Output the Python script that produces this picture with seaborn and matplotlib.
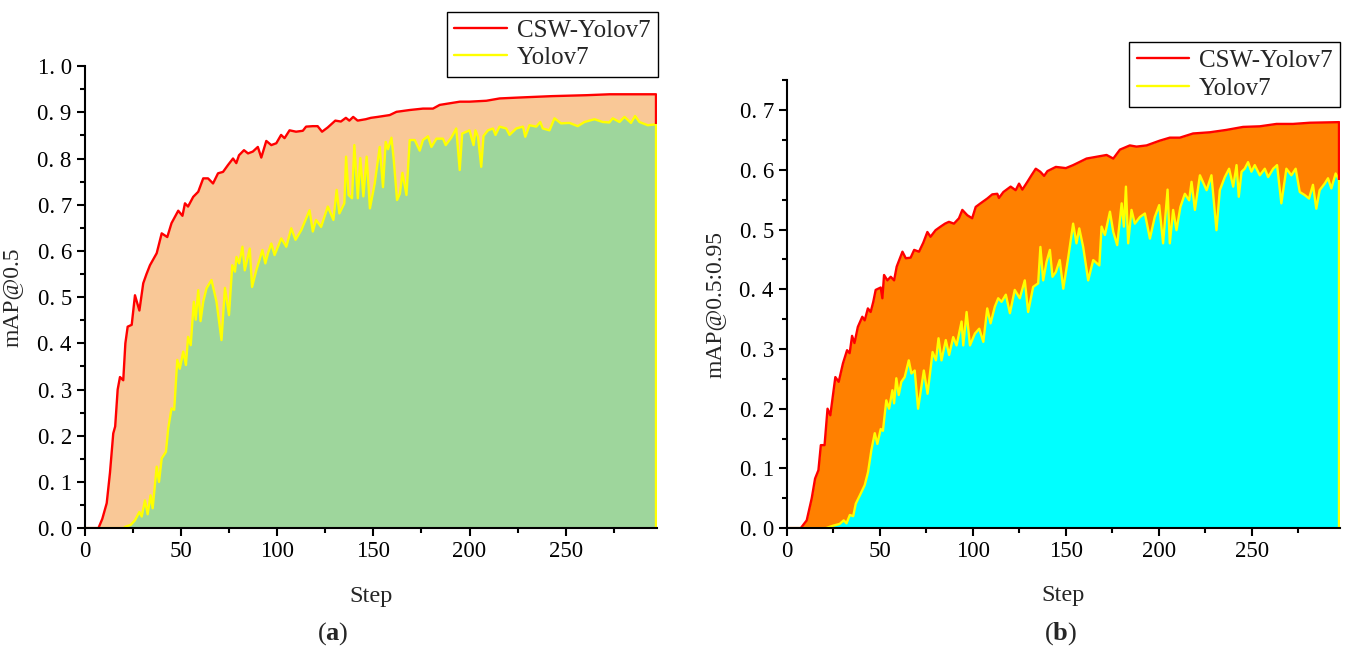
import numpy as np
import matplotlib
matplotlib.use("Agg")
import matplotlib.pyplot as plt
from matplotlib.ticker import MultipleLocator, FuncFormatter
import seaborn as sns

# panel (a): mAP@0.5
a_csw_step = [0, 7, 9, 11.3, 13, 14.7, 15.7, 17, 18.2, 19.9,
              21, 22.2, 24.3, 26, 28.3, 30.3, 32, 33.8, 37.3, 39.9,
              42.8, 45, 48.5, 50.7, 52, 53.6, 56.3, 58.9, 61.5, 64,
              66.6, 69.2, 71.8, 74.4, 77, 78.7, 80.1, 82.7, 84.8, 87.3,
              89.9, 91.7, 94.3, 96.9, 99.5, 102, 103.8, 106.4, 109.8, 113.3,
              115, 118.5, 121, 123.3, 126.2, 130.2, 133.1, 135.7, 137.5, 139.5,
              141.8, 146, 148.7, 152.2, 158.5, 162, 169, 175.8, 181, 184.5,
              195, 200, 208.8, 215.7, 226, 243, 260.8, 272.9, 297]
a_csw_map = [0, 0, 0.02, 0.054, 0.12, 0.205, 0.22, 0.3, 0.327, 0.32,
             0.4, 0.436, 0.44, 0.504, 0.471, 0.53, 0.55, 0.569, 0.595, 0.638,
             0.63, 0.66, 0.687, 0.676, 0.703, 0.696, 0.717, 0.728, 0.757, 0.757,
             0.746, 0.768, 0.771, 0.786, 0.80, 0.79, 0.807, 0.818, 0.811, 0.815,
             0.825, 0.802, 0.838, 0.829, 0.833, 0.851, 0.844, 0.861, 0.858, 0.86,
             0.869, 0.87, 0.87, 0.858, 0.867, 0.882, 0.88, 0.888, 0.882, 0.89,
             0.882, 0.885, 0.888, 0.89, 0.894, 0.901, 0.905, 0.908, 0.908, 0.916,
             0.923, 0.923, 0.925, 0.93, 0.932, 0.935, 0.937, 0.939, 0.939]

a_yolo_step = [0, 20, 21, 23.8, 26, 28.3, 29.5, 31.2, 32.6, 34.1,
               35.2, 37.3, 38.5, 39.9, 42.1, 43.3, 45, 46.4, 48, 49.3,
               51.1, 52.5, 53.6, 55, 56.6, 57.6, 58.9, 60.1, 61.5, 63.2,
               65.8, 68.4, 71, 72.8, 74.9, 76.6, 78, 78.8, 80.2, 81.9,
               83.1, 85.7, 86.9, 89.1, 92.3, 93.8, 95.2, 96.9, 98.6, 102.1,
               104.7, 107.3, 109.5, 112.5, 116.8, 118.5, 120.2, 122.8, 126.3, 129.2,
               130.9, 132.3, 134.9, 135.8, 137.1, 138.9, 140.1, 141.9, 143.2, 144.8,
               146.5, 148.2, 150.7, 153.3, 155, 156.4, 157.6, 159.4, 160.6, 162.3,
               163.8, 165.1, 167.2, 168.9, 171.5, 174.1, 175.8, 178.4, 180.2, 182.8,
               186.2, 187.6, 190.5, 193.1, 194.9, 196.2, 200, 202.1, 203.1, 204.4,
               206.1, 207.3, 209.6, 212.2, 213.5, 215.6, 219.1, 220.8, 224.3, 227.8,
               229, 231.2, 234.7, 236.8, 238.1, 241.6, 244.2, 247.6, 252, 256.3,
               259.8, 265, 269.3, 272.7, 274.5, 278, 280.6, 284, 286.1, 288.4,
               292.7, 297]
a_yolo_map = [0, 0, 0.003, 0.007, 0.017, 0.035, 0.025, 0.06, 0.03, 0.071,
              0.043, 0.133, 0.1, 0.151, 0.165, 0.216, 0.259, 0.256, 0.364, 0.345,
              0.382, 0.353, 0.414, 0.396, 0.49, 0.451, 0.515, 0.448, 0.49, 0.519,
              0.537, 0.49, 0.407, 0.52, 0.461, 0.569, 0.555, 0.587, 0.573, 0.609,
              0.558, 0.605, 0.522, 0.558, 0.602, 0.573, 0.595, 0.616, 0.591, 0.627,
              0.609, 0.649, 0.624, 0.645, 0.688, 0.642, 0.667, 0.652, 0.696, 0.667,
              0.732, 0.681, 0.703, 0.804, 0.721, 0.714, 0.829, 0.714, 0.801, 0.718,
              0.804, 0.692, 0.746, 0.825, 0.738, 0.836, 0.82, 0.845, 0.797, 0.71,
              0.724, 0.769, 0.721, 0.84, 0.84, 0.817, 0.84, 0.848, 0.825, 0.843,
              0.843, 0.829, 0.845, 0.865, 0.775, 0.854, 0.861, 0.829, 0.861, 0.847,
              0.782, 0.849, 0.861, 0.865, 0.851, 0.869, 0.865, 0.851, 0.865, 0.869,
              0.847, 0.872, 0.869, 0.879, 0.865, 0.861, 0.887, 0.876, 0.877, 0.87,
              0.879, 0.885, 0.879, 0.878, 0.887, 0.879, 0.89, 0.877, 0.892, 0.879,
              0.872, 0.874]

# panel (b): mAP@0.5:0.95
b_csw_step = [0, 7.4, 10.6, 13.3, 15.1, 16.9, 18.2, 20.2, 21.8, 23.3,
              26, 27.8, 30.1, 32.3, 33.7, 35, 36.3, 38.1, 40.5, 41.8,
              43.5, 45, 46.4, 47.7, 50.4, 51.3, 52.2, 54, 55.8, 57.6,
              59, 62.1, 63.9, 66.5, 68.4, 71, 73.3, 75.5, 77.2, 79.9,
              82.6, 85, 87.1, 89.8, 92.5, 94.3, 97, 99.6, 101.5, 104.1,
              107.7, 110.4, 113.1, 114, 116.4, 120.3, 123, 124.8, 126.6, 129.3,
              131.5, 133.8, 136.2, 138.3, 140.1, 144.6, 150, 153.9, 157.2, 161.1,
              166.5, 171.9, 175.5, 179.1, 184.4, 188, 193.4, 200.5, 205.9, 211.3,
              218.4, 227.4, 236.4, 245.3, 254.3, 263.3, 272.2, 281.2, 297]
b_csw_map = [0, 0, 0.013, 0.05, 0.083, 0.097, 0.139, 0.139, 0.2, 0.189,
             0.253, 0.245, 0.276, 0.298, 0.293, 0.322, 0.31, 0.337, 0.354, 0.348,
             0.368, 0.362, 0.379, 0.399, 0.403, 0.385, 0.424, 0.415, 0.421, 0.415,
             0.438, 0.463, 0.452, 0.453, 0.466, 0.463, 0.478, 0.496, 0.488, 0.499,
             0.505, 0.51, 0.513, 0.51, 0.519, 0.533, 0.524, 0.519, 0.538, 0.544,
             0.552, 0.559, 0.56, 0.553, 0.563, 0.572, 0.566, 0.577, 0.567, 0.58,
             0.591, 0.602, 0.597, 0.59, 0.598, 0.605, 0.603, 0.608, 0.613, 0.619,
             0.622, 0.625, 0.619, 0.634, 0.641, 0.639, 0.641, 0.649, 0.654, 0.654,
             0.661, 0.663, 0.667, 0.672, 0.673, 0.677, 0.677, 0.679, 0.68]

b_yolo_step = [0, 21, 24.7, 28.3, 30.5, 32, 33.8, 35.6, 37, 39.2,
               41.8, 43.6, 45.4, 47.2, 48.6, 50.4, 51.6, 53.4, 54.9, 56.7,
               57.6, 58.8, 60.1, 61.5, 63.3, 65.5, 66.9, 68.7, 70.5, 72,
               73.6, 75.6, 78.3, 80.1, 81.5, 83.1, 85.4, 87.2, 89.4, 91.2,
               93.9, 94.8, 96.6, 98.4, 101.1, 103.4, 105.6, 107.7, 109.5, 111.8,
               113.6, 115.4, 117.7, 119.9, 122.5, 125.2, 127.9, 129.7, 132.4, 135.1,
               136.3, 137.8, 139.6, 141.4, 142.8, 144.6, 146.7, 148.6, 151.3, 153.9,
               155.7, 157.2, 159.3, 162, 164.7, 168, 169.2, 171, 173.7, 175.5,
               177.6, 180, 181.2, 182.3, 183.5, 185.3, 187.1, 189.8, 192.5, 195.2,
               197.8, 200.2, 202.3, 204.7, 205.9, 207.7, 209.5, 211.6, 214, 216.3,
               217.6, 219.4, 222.1, 225.7, 228.3, 231, 232.8, 235.5, 237.8, 240,
               241.8, 243, 244.5, 246.2, 248, 249.8, 251.6, 254.3, 257, 258.8,
               261.5, 263.6, 265.9, 268.6, 271.3, 273.6, 275.8, 278.4, 280.8, 282.9,
               284.7, 286.5, 289.2, 291, 292.8, 295.1, 297]
b_yolo_map = [0, 0, 0.004, 0.007, 0.013, 0.008, 0.022, 0.02, 0.041, 0.055,
              0.072, 0.094, 0.131, 0.159, 0.141, 0.166, 0.163, 0.214, 0.2, 0.231,
              0.209, 0.251, 0.223, 0.245, 0.253, 0.281, 0.259, 0.264, 0.2, 0.231,
              0.264, 0.225, 0.295, 0.281, 0.318, 0.281, 0.315, 0.29, 0.32, 0.306,
              0.346, 0.306, 0.362, 0.306, 0.326, 0.334, 0.312, 0.368, 0.343, 0.371,
              0.385, 0.379, 0.391, 0.36, 0.399, 0.385, 0.415, 0.362, 0.404, 0.41,
              0.471, 0.415, 0.446, 0.466, 0.421, 0.429, 0.449, 0.401, 0.454, 0.51,
              0.477, 0.502, 0.471, 0.415, 0.449, 0.44, 0.505, 0.491, 0.53, 0.496,
              0.474, 0.544, 0.505, 0.572, 0.477, 0.533, 0.51, 0.521, 0.527, 0.485,
              0.521, 0.541, 0.477, 0.567, 0.477, 0.533, 0.499, 0.538, 0.56, 0.549,
              0.58, 0.533, 0.591, 0.566, 0.591, 0.499, 0.566, 0.588, 0.602, 0.572,
              0.608, 0.555, 0.597, 0.602, 0.613, 0.597, 0.608, 0.591, 0.602, 0.588,
              0.602, 0.608, 0.544, 0.602, 0.591, 0.602, 0.563, 0.558, 0.552, 0.575,
              0.535, 0.566, 0.577, 0.586, 0.569, 0.594, 0.583]

labels = ["CSW-Yolov7", "Yolov7"]

sns.set_theme(style="ticks")
plt.rcParams["font.family"] = ["Liberation Serif", "DejaVu Serif"]
plt.rcParams["mathtext.fontset"] = "custom"
plt.rcParams["mathtext.rm"] = "Liberation Serif"
plt.rcParams["mathtext.bf"] = "Liberation Serif:bold"
plt.rcParams["axes.edgecolor"] = "black"
plt.rcParams["xtick.color"] = "black"
plt.rcParams["ytick.color"] = "black"


def draw_panel(ax, csw, yolo, fills, ylabel, ytop):
    (cx, cy), (yx, yy) = csw, yolo
    ax.fill_between(cx, 0, cy, color=fills[0], lw=0)
    ax.fill_between(yx, 0, yy, color=fills[1], lw=0)
    sns.lineplot(x=cx, y=cy, ax=ax, color="#ff0000", lw=1.7, sort=False, label=labels[0])
    sns.lineplot(x=yx, y=yy, ax=ax, color="#ffff00", lw=1.7, sort=False, label=labels[1])
    # closing edges of the filled areas at the last step
    ax.vlines(cx[-1], yy[-1], cy[-1], color="#ff0000", lw=1.7)
    ax.vlines(yx[-1], 0, yy[-1], color="#ffff00", lw=1.7)

    ax.set_xlim(0, 297.5)
    ax.set_ylim(0, ytop)
    ax.xaxis.set_major_locator(MultipleLocator(50))
    ax.xaxis.set_minor_locator(MultipleLocator(25))
    ax.yaxis.set_major_locator(MultipleLocator(0.1))
    ax.yaxis.set_minor_locator(MultipleLocator(0.05))
    ax.yaxis.set_major_formatter(FuncFormatter(lambda v, _: f"{v:.1f}".replace(".", ". ")))
    ax.tick_params(which="major", direction="out", length=6, width=1.5, labelsize=16.5)
    ax.tick_params(which="minor", direction="out", length=3.5, width=1.5)
    for s in ["top", "right"]:
        ax.spines[s].set_visible(False)
    for s in ["left", "bottom"]:
        ax.spines[s].set_linewidth(1.5)
    ax.set_xlabel("Step", fontsize=17.5)
    ax.set_ylabel(ylabel, fontsize=17)


fig = plt.figure(figsize=(13.49, 6.48), dpi=100)
ax1 = fig.add_axes([0.063, 0.185, 0.424, 0.713])
ax2 = fig.add_axes([0.5834, 0.185, 0.410, 0.691])

draw_panel(ax1, (np.array(a_csw_step), np.array(a_csw_map)),
           (np.array(a_yolo_step), np.array(a_yolo_map)),
           ["#f9c897", "#9ed69c"], "mAP@0.5", 1.0)
draw_panel(ax2, (np.array(b_csw_step), np.array(b_csw_map)),
           (np.array(b_yolo_step), np.array(b_yolo_map)),
           ["#ff8000", "#00ffff"], "mAP@0.5:0.95", 0.75)

ax1.xaxis.set_label_coords(0.5, -0.125)
ax1.yaxis.set_label_coords(-0.11, 0.5)
ax2.xaxis.set_label_coords(0.5, -0.128)
ax2.yaxis.set_label_coords(-0.112, 0.5)

for ax, anchor in [(ax1, (0.4875, 0.982)), (ax2, (0.9935, 0.935))]:
    leg = ax.legend(loc="upper right", bbox_to_anchor=anchor, bbox_transform=fig.transFigure,
                    fontsize=18, frameon=True, fancybox=False, framealpha=1,
                    edgecolor="black", handlelength=2.1, borderpad=0.3,
                    labelspacing=0.2, handletextpad=0.4, borderaxespad=0)
    leg.get_frame().set_linewidth(1.0)

fig.text(0.247, 0.023, r"($\mathbf{a}$)", ha="center", va="center", fontsize=19)
fig.text(0.786, 0.023, r"($\mathbf{b}$)", ha="center", va="center", fontsize=19)

fig.savefig("out.png", dpi=100)
